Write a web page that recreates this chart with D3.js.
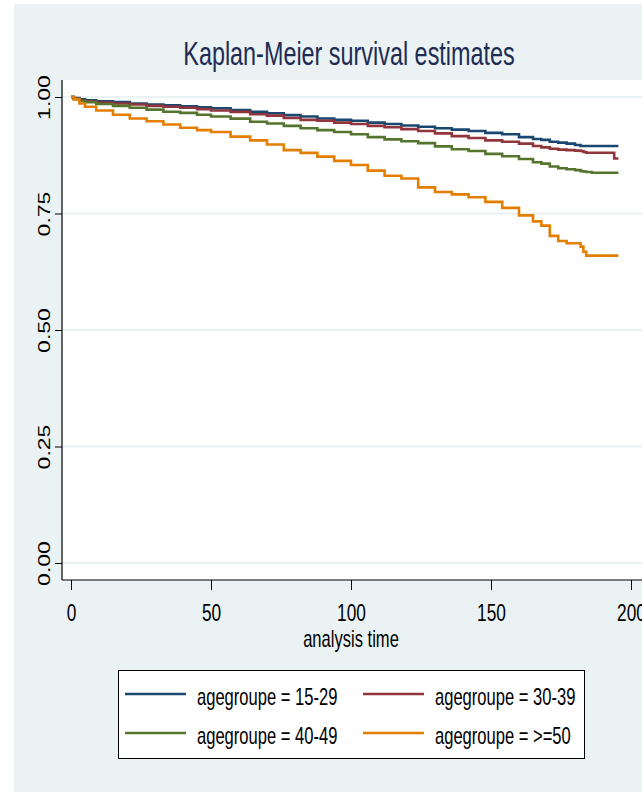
<!DOCTYPE html>
<html>
<head>
<meta charset="utf-8">
<script src="https://cdn.jsdelivr.net/npm/d3@7"></script>
<style>
  html, body { margin: 0; padding: 0; background: #ffffff; }
  svg { display: block; }
  text { font-family: "Liberation Sans", Arial, sans-serif; }
</style>
</head>
<body>
<svg id="chart" width="642" height="792"></svg>
<script>
// ---------------- data ----------------
const titleText = "Kaplan-Meier survival estimates";
const xAxisTitle = "analysis time";
const xTicks = [0, 50, 100, 150, 200];
const yTicks = [0, 0.25, 0.5, 0.75, 1];
const seriesLabels = ["agegroupe = 15-29", "agegroupe = 30-39", "agegroupe = 40-49", "agegroupe = >=50"];
const seriesColors = ["#1A476F", "#90353B", "#55752F", "#E37E00"];

const times = [0, 1, 3, 5, 9, 15, 21, 27, 33, 39, 45, 50, 57, 64, 70, 76, 82, 88, 94, 100,
               106, 112, 118, 124, 130, 136, 142, 148, 154, 160, 165, 168, 171, 174, 177, 180,
               182, 183, 184, 186, 190, 194, 195.5];
const surv1529 = [1.000, 0.998, 0.995, 0.993, 0.991, 0.989, 0.986, 0.984, 0.982, 0.980, 0.978, 0.976, 0.972, 0.968, 0.965, 0.961, 0.958, 0.954, 0.951, 0.949,
                  0.945, 0.942, 0.939, 0.936, 0.933, 0.930, 0.927, 0.923, 0.920, 0.914, 0.910, 0.908, 0.904, 0.902, 0.900, 0.897,
                  0.895, 0.895, 0.895, 0.895, 0.895, 0.895, 0.895];
const surv3039 = [1.000, 0.997, 0.993, 0.991, 0.988, 0.986, 0.984, 0.981, 0.979, 0.977, 0.974, 0.971, 0.968, 0.963, 0.960, 0.955, 0.951, 0.949, 0.945, 0.942,
                  0.938, 0.935, 0.931, 0.927, 0.922, 0.916, 0.912, 0.907, 0.904, 0.900, 0.895, 0.892, 0.889, 0.887, 0.886, 0.885,
                  0.884, 0.882, 0.8805, 0.8805, 0.8805, 0.868, 0.868];
const surv4049 = [1.000, 0.996, 0.992, 0.989, 0.985, 0.981, 0.977, 0.973, 0.9685, 0.966, 0.962, 0.958, 0.9535, 0.947, 0.943, 0.938, 0.933, 0.929, 0.925, 0.920,
                  0.914, 0.909, 0.905, 0.901, 0.894, 0.888, 0.884, 0.878, 0.873, 0.867, 0.860, 0.857, 0.851, 0.847, 0.845, 0.843,
                  0.841, 0.840, 0.839, 0.8376, 0.8376, 0.8376, 0.8376];
const surv50 =   [1.000, 0.995, 0.986, 0.979, 0.971, 0.962, 0.954, 0.948, 0.941, 0.934, 0.929, 0.925, 0.915, 0.907, 0.898, 0.886, 0.880, 0.872, 0.863, 0.854,
                  0.842, 0.831, 0.825, 0.806, 0.796, 0.791, 0.785, 0.775, 0.762, 0.746, 0.733, 0.724, 0.702, 0.691, 0.686, 0.686,
                  0.679, 0.668, 0.6595, 0.6595, 0.6595, 0.6595, 0.6595];
const survSeries = [surv1529, surv3039, surv4049, surv50];

// ---------------- drawing ----------------
const SQ = 0.72; // horizontal squeeze of the original image's text
const svg = d3.select("#chart");

// graph region background
svg.append("rect").attr("x", 14).attr("y", 4).attr("width", 628).attr("height", 788).attr("fill", "#EAF2F3");
// plot region
const plotL = 62, plotT = 80, plotR = 642, plotB = 580;
svg.append("rect").attr("x", plotL).attr("y", plotT).attr("width", plotR - plotL).attr("height", plotB - plotT).attr("fill", "#ffffff");

const x = d3.scaleLinear().domain([0, 200]).range([71, 631]);
const y = d3.scaleLinear().domain([0, 1]).range([563, 97]);

// gridlines
svg.append("g").selectAll("line").data(yTicks).join("line")
  .attr("x1", plotL).attr("x2", plotR)
  .attr("y1", d => y(d)).attr("y2", d => y(d))
  .attr("stroke", "#EAF2F3").attr("stroke-width", 2);

// curves
const line = d3.line().x(d => x(d[0])).y(d => y(d[1])).curve(d3.curveStepAfter);
const gCurves = svg.append("g");
survSeries.forEach((s, i) => {
  const pts = times.map((t, k) => [t, s[k]]);
  gCurves.append("path").attr("d", line(pts)).attr("fill", "none")
    .attr("stroke", seriesColors[i]).attr("stroke-width", 2.6).attr("stroke-linejoin", "miter");
});

// x axis
const gx = svg.append("g").attr("transform", `translate(0,${plotB})`)
  .call(d3.axisBottom(x).tickValues(xTicks).tickSize(10).tickPadding(0).tickSizeOuter(0).tickFormat(d3.format("d")));
gx.select(".domain").attr("d", `M${plotL},0H${plotR}`).attr("stroke", "#000").attr("stroke-width", 1.2);
gx.selectAll(".tick line").attr("stroke", "#000").attr("stroke-width", 1);
gx.selectAll(".tick text")
  .attr("y", 41).attr("dy", null)
  .attr("transform", `scale(${SQ},1)`)
  .attr("font-size", 24).attr("font-family", "Liberation Sans, Arial, sans-serif").attr("fill", "#000");

// y axis
const gy = svg.append("g").attr("transform", `translate(${plotL},0)`)
  .call(d3.axisLeft(y).tickValues(yTicks).tickSize(7).tickSizeOuter(0).tickFormat(d3.format(".2f")));
gy.select(".domain").attr("d", `M0,${plotT}V${plotB}`).attr("stroke", "#000").attr("stroke-width", 1.2);
gy.selectAll(".tick line").attr("stroke", "#000").attr("stroke-width", 1);
gy.selectAll(".tick text")
  .attr("x", null).attr("dy", null)
  .attr("text-anchor", "middle")
  .attr("transform", `translate(-12,0) scale(${SQ},1) rotate(-90)`)
  .attr("font-size", 23).attr("font-family", "Liberation Sans, Arial, sans-serif").attr("fill", "#000");

// x axis title
svg.append("text").attr("text-anchor", "middle")
  .attr("transform", `translate(351,647) scale(${SQ},1)`)
  .attr("font-size", 23).attr("fill", "#000").text(xAxisTitle);

// title
svg.append("text").attr("text-anchor", "middle")
  .attr("transform", `translate(349,65) scale(${SQ},1)`)
  .attr("font-size", 32.5).attr("fill", "#1E2C54").text(titleText);

// legend
const lg = svg.append("g");
lg.append("rect").attr("x", 118.5).attr("y", 670.5).attr("width", 466).attr("height", 88)
  .attr("fill", "#ffffff").attr("stroke", "#000").attr("stroke-width", 1);
const colX = [125, 363];
const rowY = [694, 733];
seriesLabels.forEach((lab, i) => {
  const cx = colX[i % 2], ry = rowY[Math.floor(i / 2)];
  lg.append("line").attr("x1", cx).attr("x2", cx + 61).attr("y1", ry).attr("y2", ry)
    .attr("stroke", seriesColors[i]).attr("stroke-width", 2.6);
  lg.append("text").attr("transform", `translate(${cx + 72},${ry + 11}) scale(${SQ},1)`)
    .attr("font-size", 23).attr("fill", "#000").text(lab);
});
</script>
</body>
</html>
